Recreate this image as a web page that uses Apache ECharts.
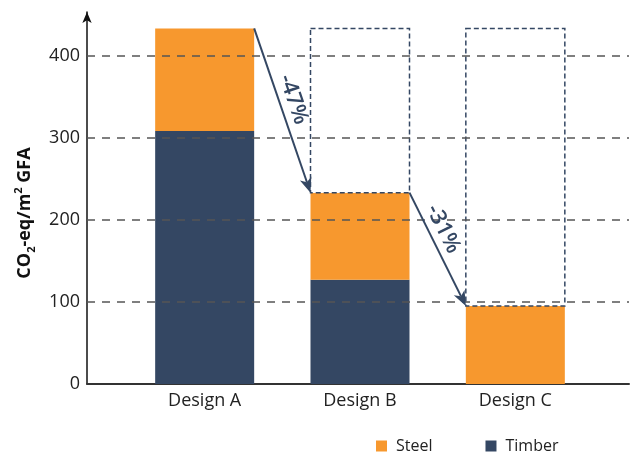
<!DOCTYPE html>
<html>
<head>
<meta charset="utf-8">
<script src="https://cdn.jsdelivr.net/npm/echarts/dist/echarts.min.js"></script>
<style>
  html, body { margin: 0; padding: 0; background: #fff; }
  #chart { width: 636px; height: 453px; }
</style>
</head>
<body>
<div id="chart"></div>
<script>
// Embodied carbon per design option, split by material
const categories = ['Design A', 'Design B', 'Design C'];
const timber = [308, 127, 0];
const steel = [125, 106, 95];
const dropLabels = ['-47%', '-31%'];
const gridTicks = [100, 200, 300, 400];

const ORANGE = '#f7982e';
const NAVY = '#344763';
const FONT = '"Open Sans", "Noto Sans", sans-serif';
const BAR_W = 99;
const Y_MAX = 453;

const totals = categories.map((_, i) => timber[i] + steel[i]);
const baseTotal = totals[0];

const chart = echarts.init(document.getElementById('chart'), null, { renderer: 'canvas' });

// Outline showing the baseline total above each reduced design
function renderGhost(params, api) {
  const i = api.value(0);
  const top = api.coord([i, baseTotal]);
  const bot = api.coord([i, totals[i]]);
  return {
    type: 'rect',
    shape: { x: top[0] - BAR_W / 2, y: top[1], width: BAR_W, height: bot[1] - top[1] },
    style: { fill: '#fff', stroke: NAVY, lineWidth: 1.5, lineDash: [5, 3] }
  };
}

// Arrow from one bar's top to the next, with its percentage label
const labelPos = [0.46, 0.375];
function renderArrow(params, api) {
  const i = api.value(0);
  const p0 = api.coord([i, totals[i]]);
  p0[0] += BAR_W / 2;
  const p1 = api.coord([i + 1, totals[i + 1]]);
  p1[0] -= BAR_W / 2;
  const dx = p1[0] - p0[0], dy = p1[1] - p0[1];
  const len = Math.hypot(dx, dy);
  const ux = dx / len, uy = dy / len;
  const headL = 15, headW = 6, notch = 11;
  const bx = p1[0] - ux * headL, by = p1[1] - uy * headL;
  const nx = p1[0] - ux * notch, ny = p1[1] - uy * notch;
  const t = labelPos[i];
  const tx = p0[0] + dx * t + uy * 14;
  const ty = p0[1] + dy * t - ux * 14;
  return {
    type: 'group',
    children: [
      {
        type: 'line',
        shape: { x1: p0[0], y1: p0[1], x2: nx, y2: ny },
        style: { stroke: NAVY, lineWidth: 2 }
      },
      {
        type: 'polygon',
        shape: { points: [p1, [bx - uy * headW, by + ux * headW], [nx, ny], [bx + uy * headW, by - ux * headW]] },
        style: { fill: NAVY }
      },
      {
        type: 'text',
        x: tx, y: ty,
        rotation: -Math.atan2(dy, dx),
        style: {
          text: dropLabels[i],
          fill: NAVY,
          font: '600 22px ' + FONT,
          align: 'center',
          verticalAlign: 'middle'
        }
      }
    ]
  };
}

chart.setOption({
  animation: false,
  backgroundColor: '#fff',
  legend: {
    data: ['Steel', 'Timber'],
    left: 371,
    top: 433,
    icon: 'rect',
    itemWidth: 11,
    itemHeight: 11,
    itemGap: 53,
    selectedMode: false,
    textStyle: { fontFamily: FONT, fontSize: 16, color: '#222', padding: [0, 0, 0, 4] }
  },
  grid: [
    { left: 87, right: 7, top: 12, bottom: 69 },
    { left: 127, right: 43, top: 12, bottom: 69 }
  ],
  xAxis: [
    {
      type: 'value', gridIndex: 0, min: 0, max: 1,
      axisLine: { show: true, lineStyle: { color: '#333', width: 2 } },
      axisTick: { show: false }, axisLabel: { show: false }, splitLine: { show: false }
    },
    {
      type: 'category', gridIndex: 1, data: categories,
      axisLine: { show: false }, axisTick: { show: false }, splitLine: { show: false },
      axisLabel: { fontFamily: FONT, fontSize: 18, color: '#222', margin: 8 }
    }
  ],
  yAxis: [
    {
      type: 'value', gridIndex: 0, min: 0, max: Y_MAX, interval: 100,
      axisLine: {
        show: true, lineStyle: { color: '#111', width: 1.5 },
        symbol: ['none', 'arrow'], symbolSize: [7, 11]
      },
      axisTick: { show: false },
      splitLine: { show: false },
      axisLabel: { showMaxLabel: false, fontFamily: FONT, fontSize: 18, color: '#222', margin: 7 },
      name: 'CO{sub|2}-eq/m{sup|2} GFA',
      nameLocation: 'middle',
      nameGap: 50,
      nameTextStyle: {
        fontFamily: FONT, fontSize: 18, fontWeight: 'bold', color: '#111', lineHeight: 24,
        padding: [0, 30, 0, 0],
        rich: {
          sub: { fontFamily: FONT, fontSize: 11, fontWeight: 'bold', color: '#111', verticalAlign: 'bottom', lineHeight: 24 },
          sup: { fontFamily: FONT, fontSize: 11, fontWeight: 'bold', color: '#111', verticalAlign: 'top', lineHeight: 24 }
        }
      }
    },
    {
      type: 'value', gridIndex: 1, min: 0, max: Y_MAX, show: false
    }
  ],
  series: [
    {
      name: 'grid', type: 'line', xAxisIndex: 0, yAxisIndex: 0, data: [], z: 1,
      markLine: {
        silent: true, symbol: 'none', label: { show: false },
        lineStyle: { color: '#555', width: 1.5, type: [8, 7] },
        emphasis: { disabled: true },
        data: gridTicks.map(v => ({ yAxis: v }))
      }
    },
    {
      name: 'Timber', type: 'bar', stack: 'total', xAxisIndex: 1, yAxisIndex: 1,
      barWidth: BAR_W, data: timber, itemStyle: { color: NAVY }, z: 3,
      emphasis: { disabled: true }
    },
    {
      name: 'Steel', type: 'bar', stack: 'total', xAxisIndex: 1, yAxisIndex: 1,
      barWidth: BAR_W, data: steel, itemStyle: { color: ORANGE }, z: 3,
      emphasis: { disabled: true }
    },
    {
      name: 'baseline', type: 'custom', xAxisIndex: 1, yAxisIndex: 1, z: 4,
      data: [[1], [2]], renderItem: renderGhost, silent: true
    },
    {
      name: 'change', type: 'custom', xAxisIndex: 1, yAxisIndex: 1, z: 5,
      data: [[0], [1]], renderItem: renderArrow, silent: true
    }
  ]
});
</script>
</body>
</html>
